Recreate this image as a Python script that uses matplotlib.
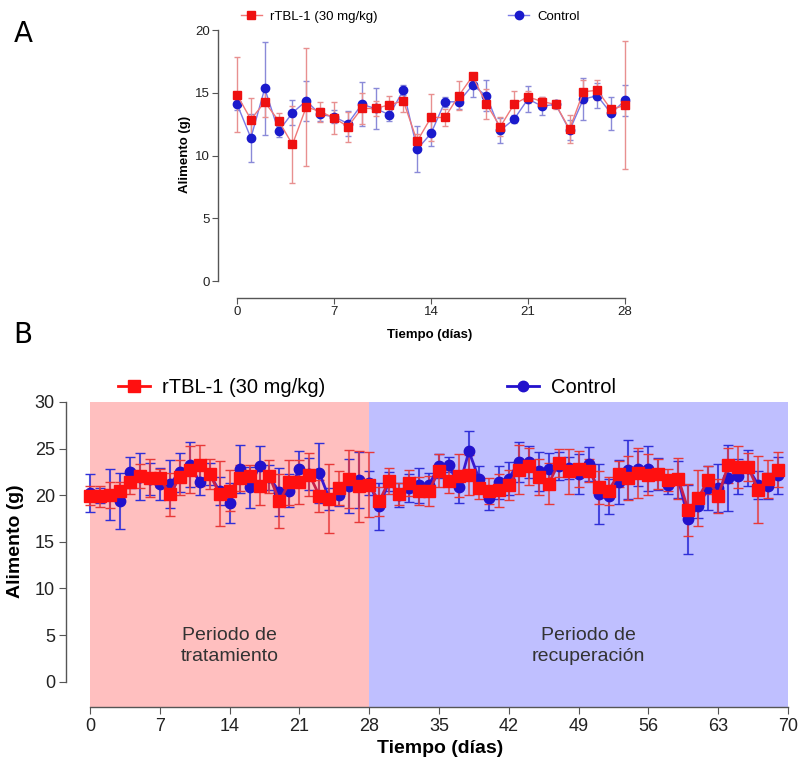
import numpy as np
import matplotlib
matplotlib.use("Agg")
import matplotlib.pyplot as plt
from matplotlib.lines import Line2D

plt.rcParams['font.family'] = ['Liberation Sans', 'DejaVu Sans']

# Panel A: consumo diario, dias 0-28
dias_a = list(range(0, 29))
rtbl_a = [14.84, 12.87, 14.26, 12.77, 10.88, 13.88, 13.5, 13.0, 12.3, 13.75,
          13.75, 14.04, 14.36, 11.14, 13.03, 13.03, 14.76, 16.33, 14.1, 12.29,
          14.1, 14.68, 14.3, 14.07, 12.1, 15.08, 15.2, 13.67, 14.0]
rtbl_a_err = [3.0, 1.7, 1.2, 0.65, 3.1, 4.7, 0.8, 1.25, 1.2, 1.2,
              0.6, 0.7, 0.9, 0.6, 1.85, 0.7, 1.15, 0.2, 1.2, 0.75,
              1.05, 0.5, 0.4, 0.35, 1.1, 0.9, 0.8, 0.3, 5.1]
ctrl_a = [14.1, 11.4, 15.35, 11.94, 13.4, 14.36, 13.27, 13.09, 12.55, 14.07,
          13.75, 13.24, 15.2, 10.5, 11.76, 14.28, 14.28, 15.6, 14.76, 12.0,
          12.9, 14.5, 13.94, 14.07, 12.0, 14.5, 14.76, 13.35, 14.4]
ctrl_a_err = [0.5, 1.9, 3.7, 0.45, 1.0, 1.6, 0.5, 0.5, 1.0, 1.75,
              1.6, 0.45, 0.4, 1.85, 1.0, 0.4, 0.6, 0.9, 1.25, 1.0,
              0.3, 1.05, 0.7, 0.3, 0.8, 1.7, 1.0, 1.3, 1.25]

# Panel B: tratamiento (0-28) y recuperacion (28-70)
dias_b = list(range(0, 70))
rtbl_b = [19.94, 19.87, 19.98, 20.41, 21.38, 22.02, 21.84, 21.84, 20.12, 21.91,
          22.74, 23.2, 22.27, 20.16, 20.48, 21.84, 22.09, 21.0, 22.02, 19.33,
          21.38, 21.41, 22.2, 19.94, 19.62, 20.77, 21.77, 20.95, 21.13, 19.33,
          21.56, 20.16, 21.3, 20.41, 20.48, 22.63, 21.48, 22.09, 22.2, 20.77,
          20.41, 20.52, 21.13, 22.74, 23.1, 21.95, 21.23, 23.45, 22.56, 22.81,
          22.63, 20.84, 20.48, 22.27, 21.84, 22.38, 22.2, 22.3, 21.66, 21.77,
          18.37, 19.7, 21.66, 19.94, 23.2, 23.02, 22.99, 20.59, 21.73, 22.74]
rtbl_b_err = [1.0, 1.1, 1.4, 1.0, 1.2, 1.3, 2.0, 1.0, 2.3, 1.9,
              2.5, 2.2, 1.6, 3.5, 2.2, 1.4, 1.2, 2.0, 1.8, 2.9,
              2.4, 2.4, 2.3, 1.7, 3.7, 1.8, 3.1, 3.8, 3.5, 1.6,
              1.4, 1.2, 1.4, 1.5, 1.6, 1.8, 1.2, 2.3, 2.15, 1.2,
              1.4, 1.75, 1.6, 2.65, 2.0, 1.9, 2.2, 1.5, 2.4, 1.9,
              1.2, 1.8, 1.5, 1.4, 2.4, 2.7, 2.2, 1.6, 1.2, 2.2,
              2.8, 3.0, 1.5, 1.8, 1.9, 2.3, 1.5, 3.6, 2.0, 1.9]
ctrl_b = [20.23, 19.94, 20.05, 19.33, 22.45, 22.0, 21.7, 21.2, 21.2, 22.45,
          23.27, 21.41, 22.27, 20.4, 19.16, 22.81, 20.84, 23.1, 21.9, 20.34,
          20.48, 22.81, 22.27, 22.38, 19.62, 19.98, 21.0, 21.66, 21.3, 18.8,
          21.5, 20.05, 20.77, 21.05, 21.13, 23.1, 23.27, 20.84, 24.7, 21.77,
          19.7, 21.38, 21.77, 23.56, 23.56, 22.56, 22.81, 23.1, 22.92, 22.27,
          23.35, 20.16, 19.87, 21.41, 22.74, 22.85, 22.85, 22.3, 21.13, 21.7,
          17.44, 18.8, 20.77, 20.77, 21.84, 22.02, 22.92, 21.13, 20.95, 22.13]
ctrl_b_err = [2.0, 0.8, 2.75, 3.0, 1.65, 2.55, 1.7, 1.7, 2.6, 2.1,
              2.4, 1.4, 1.2, 1.5, 2.1, 2.6, 2.2, 2.2, 1.3, 2.6,
              1.8, 1.9, 1.7, 3.2, 1.2, 1.1, 2.9, 3.0, 1.3, 2.5,
              1.0, 1.3, 1.5, 1.9, 1.2, 1.3, 0.8, 1.7, 2.2, 1.4,
              1.3, 1.8, 1.8, 2.1, 1.7, 2.1, 1.7, 1.5, 1.2, 2.1,
              1.8, 3.2, 1.9, 2.4, 3.2, 1.9, 2.4, 1.7, 1.0, 2.0,
              3.7, 1.3, 2.4, 2.6, 3.5, 1.9, 1.9, 1.5, 1.4, 2.0]

ticks_a = [0, 7, 14, 21, 28]
ticks_b = [0, 7, 14, 21, 28, 35, 42, 49, 56, 63, 70]
etiquetas = ['rTBL-1 (30 mg/kg)', 'Control']

fig = plt.figure(figsize=(8.01, 7.62), dpi=100)


def prism_axes(ax, xmax, ymax):
    ax.spines['top'].set_visible(False)
    ax.spines['right'].set_visible(False)
    ax.spines['left'].set_bounds(0, ymax)
    ax.spines['bottom'].set_bounds(0, xmax)
    for s in ('left', 'bottom'):
        ax.spines[s].set_color('#555555')
        ax.spines[s].set_linewidth(1.0)
    ax.tick_params(direction='out', color='#555555', labelcolor='#222222')


# ---- A ----
axA = fig.add_axes([0.2722, 0.6089, 0.5167, 0.3517])
axA.errorbar(dias_a, ctrl_a, yerr=ctrl_a_err, fmt='o-', color='#7a7ae6',
             mfc='#1a1acc', mec='#1a1acc', ms=6, lw=1.0,
             ecolor='#8a8ad8', elinewidth=1.0, capsize=2.5)
axA.errorbar(dias_a, rtbl_a, yerr=rtbl_a_err, fmt='s-', color='#f07878',
             mfc='#ee1111', mec='#ee1111', ms=6, lw=1.0,
             ecolor='#e89090', elinewidth=1.0, capsize=2.5)
axA.set_xlim(-1.371, 28.5)
axA.set_ylim(-1.355, 20)
axA.set_xticks(ticks_a)
axA.set_yticks([0, 5, 10, 15, 20])
prism_axes(axA, 28, 20)
axA.tick_params(labelsize=9.5, length=4, pad=2)
axA.set_ylabel('Alimento (g)', fontsize=9.5, fontweight='bold')
axA.set_xlabel('Tiempo (días)', fontsize=9.5, fontweight='bold')
axA.yaxis.set_label_coords(-0.065, 0.534)
axA.xaxis.set_label_coords(0.512, -0.116)
hA = [Line2D([], [], color='#f07878', marker='s', mfc='#ee1111', mec='#ee1111', ms=6, lw=1.0),
      Line2D([], [], color='#7a7ae6', marker='o', mfc='#1a1acc', mec='#1a1acc', ms=6, lw=1.0)]
axA.legend(hA, etiquetas, ncol=2,
           loc='center left', bbox_to_anchor=(0.055, 1.049), frameon=False,
           fontsize=9.5, handlelength=1.6, handletextpad=0.6, columnspacing=9.9,
           borderpad=0, borderaxespad=0)

# ---- B ----
axB = fig.add_axes([0.0824, 0.0722, 0.9014, 0.4003])
axB.axvspan(0, 28, color='#ffbfbf', lw=0, zorder=0)
axB.axvspan(28, 70, color='#bfbfff', lw=0, zorder=0)
eb_c = axB.errorbar(dias_b, ctrl_b, yerr=ctrl_b_err, fmt='o-', color='#3a1ad0',
                    mfc='#2211cc', mec='#2211cc', ms=7.5, lw=2.0,
                    ecolor='#3030d8', elinewidth=1.5, capsize=3.5)
eb_r = axB.errorbar(dias_b, rtbl_b, yerr=rtbl_b_err, fmt='s-', color='#c8204a',
                    mfc='#ff1010', mec='#ff1010', ms=8, lw=2.0,
                    ecolor='#e83838', elinewidth=1.5, capsize=3.5)
for bars in eb_c[2]:
    bars.set_alpha(0.85)
for bars in eb_r[2]:
    bars.set_alpha(0.75)
axB.set_xlim(-2.407, 70)
axB.set_ylim(-2.72, 30)
axB.set_xticks(ticks_b)
axB.set_yticks([0, 5, 10, 15, 20, 25, 30])
prism_axes(axB, 70, 30)
axB.tick_params(labelsize=13, length=5, pad=3)
axB.set_ylabel('Alimento (g)', fontsize=14, fontweight='bold')
axB.set_xlabel('Tiempo (días)', fontsize=14, fontweight='bold')
axB.yaxis.set_label_coords(-0.058, 0.544)
axB.xaxis.set_label_coords(0.518, -0.108)
axB.text(14, 3.8, 'Periodo de\ntratamiento', ha='center', va='center',
         fontsize=14, color='#333333', linespacing=1.35)
axB.text(50, 3.8, 'Periodo de\nrecuperación', ha='center', va='center',
         fontsize=14, color='#333333', linespacing=1.35)
hB = [Line2D([], [], color='#ff1010', marker='s', mfc='#ff1010', mec='#ff1010', ms=8, lw=2.0),
      Line2D([], [], color='#2211cc', marker='o', mfc='#2211cc', mec='#2211cc', ms=7.5, lw=2.0)]
axB.legend(hB, etiquetas, ncol=2,
           loc='center left', bbox_to_anchor=(0.072, 1.046), frameon=False,
           fontsize=14.5, handlelength=1.6, handletextpad=0.6, columnspacing=9.0,
           borderpad=0, borderaxespad=0)

fig.text(0.017, 0.955, 'A', fontsize=20, ha='left', va='center', family='DejaVu Sans')
fig.text(0.017, 0.56, 'B', fontsize=20, ha='left', va='center', family='DejaVu Sans')

fig.savefig('out.png', dpi=100)
